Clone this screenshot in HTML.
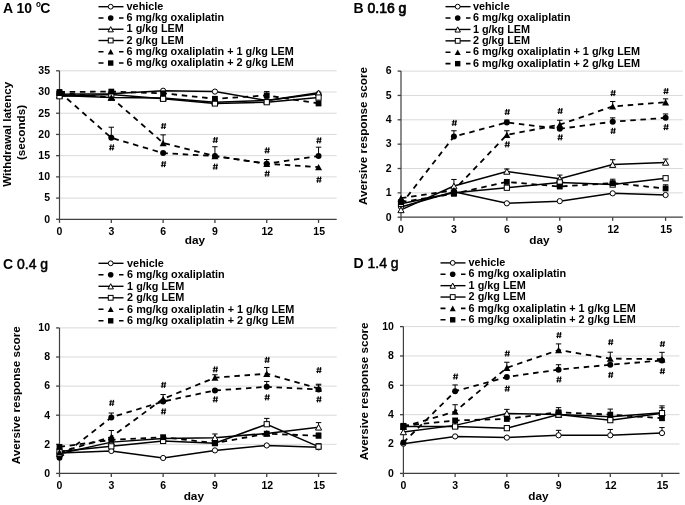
<!DOCTYPE html>
<html><head><meta charset="utf-8"><style>
html,body{margin:0;padding:0;background:#fff;width:685px;height:505px;overflow:hidden}
svg{display:block;font-family:"Liberation Sans", sans-serif;filter:blur(0.35px)}
</style></head><body>
<svg width="685" height="505" viewBox="0 0 685 505">
<rect width="685" height="505" fill="#fff"/>
<path d="M59.5,198.09H336.7" stroke="#d9d9d9" stroke-width="1"/>
<path d="M59.5,176.87H336.7" stroke="#d9d9d9" stroke-width="1"/>
<path d="M59.5,155.66H336.7" stroke="#d9d9d9" stroke-width="1"/>
<path d="M59.5,134.44H336.7" stroke="#d9d9d9" stroke-width="1"/>
<path d="M59.5,113.23H336.7" stroke="#d9d9d9" stroke-width="1"/>
<path d="M59.5,92.01H336.7" stroke="#d9d9d9" stroke-width="1"/>
<path d="M59.5,70.79H336.7" stroke="#d9d9d9" stroke-width="1"/>
<path d="M59.5,70.79V219.3 M59.5,219.3H336.7" stroke="#404040" stroke-width="1.2" fill="none"/>
<path d="M56.1,219.30H59.5" stroke="#404040" stroke-width="1.3"/>
<text x="50.0" y="222.60000000000002" font-size="10.5" font-weight="bold" text-anchor="end" >0</text>
<path d="M56.1,198.09H59.5" stroke="#404040" stroke-width="1.3"/>
<text x="50.0" y="201.38500000000002" font-size="10.5" font-weight="bold" text-anchor="end" >5</text>
<path d="M56.1,176.87H59.5" stroke="#404040" stroke-width="1.3"/>
<text x="50.0" y="180.17000000000002" font-size="10.5" font-weight="bold" text-anchor="end" >10</text>
<path d="M56.1,155.66H59.5" stroke="#404040" stroke-width="1.3"/>
<text x="50.0" y="158.955" font-size="10.5" font-weight="bold" text-anchor="end" >15</text>
<path d="M56.1,134.44H59.5" stroke="#404040" stroke-width="1.3"/>
<text x="50.0" y="137.74" font-size="10.5" font-weight="bold" text-anchor="end" >20</text>
<path d="M56.1,113.23H59.5" stroke="#404040" stroke-width="1.3"/>
<text x="50.0" y="116.525" font-size="10.5" font-weight="bold" text-anchor="end" >25</text>
<path d="M56.1,92.01H59.5" stroke="#404040" stroke-width="1.3"/>
<text x="50.0" y="95.31" font-size="10.5" font-weight="bold" text-anchor="end" >30</text>
<path d="M56.1,70.79H59.5" stroke="#404040" stroke-width="1.3"/>
<text x="50.0" y="74.09499999999998" font-size="10.5" font-weight="bold" text-anchor="end" >35</text>
<path d="M59.50,219.3V222.9" stroke="#404040" stroke-width="1.3"/>
<text x="59.5" y="235.10000000000002" font-size="10.5" font-weight="bold" text-anchor="middle" >0</text>
<path d="M111.31,219.3V222.9" stroke="#404040" stroke-width="1.3"/>
<text x="111.31" y="235.10000000000002" font-size="10.5" font-weight="bold" text-anchor="middle" >3</text>
<path d="M163.12,219.3V222.9" stroke="#404040" stroke-width="1.3"/>
<text x="163.12" y="235.10000000000002" font-size="10.5" font-weight="bold" text-anchor="middle" >6</text>
<path d="M214.93,219.3V222.9" stroke="#404040" stroke-width="1.3"/>
<text x="214.93" y="235.10000000000002" font-size="10.5" font-weight="bold" text-anchor="middle" >9</text>
<path d="M266.74,219.3V222.9" stroke="#404040" stroke-width="1.3"/>
<text x="267.34000000000003" y="235.10000000000002" font-size="10.5" font-weight="bold" text-anchor="middle" >12</text>
<path d="M318.55,219.3V222.9" stroke="#404040" stroke-width="1.3"/>
<text x="319.15000000000003" y="235.10000000000002" font-size="10.5" font-weight="bold" text-anchor="middle" >15</text>
<text x="195" y="244.4" font-size="11.8" font-weight="bold" text-anchor="middle" >day</text>
<path d="M59.50,94.13 L111.31,93.71 L163.12,90.74 L214.93,91.59 L266.74,100.50 L318.55,93.71" stroke="#000" stroke-width="1.5" fill="none"/>
<path d="M59.50,92.01 L111.31,137.83 L163.12,153.11 L214.93,156.08 L266.74,163.72 L318.55,156.08" stroke="#000" stroke-width="1.8" fill="none" stroke-dasharray="5.5 4.7"/>
<path d="M59.50,95.40 L111.31,97.53 L163.12,97.95 L214.93,102.19 L266.74,100.50 L318.55,92.86" stroke="#000" stroke-width="1.5" fill="none"/>
<path d="M59.50,96.25 L111.31,94.56 L163.12,98.80 L214.93,103.47 L266.74,102.19 L318.55,97.53" stroke="#000" stroke-width="1.5" fill="none"/>
<path d="M59.50,92.86 L111.31,97.53 L163.12,142.93 L214.93,156.08 L266.74,163.72 L318.55,167.11" stroke="#000" stroke-width="1.8" fill="none" stroke-dasharray="5.5 4.7"/>
<path d="M59.50,92.01 L111.31,91.59 L163.12,93.28 L214.93,98.80 L266.74,95.40 L318.55,103.47" stroke="#000" stroke-width="1.8" fill="none" stroke-dasharray="5.5 4.7"/>
<path d="M111.31,137.83V127.23 M108.61,127.23H114.01" stroke="#000" stroke-width="1"/>
<path d="M214.93,156.08V146.74 M212.23,146.74H217.63" stroke="#000" stroke-width="1"/>
<path d="M318.55,156.08V147.17 M315.85,147.17H321.25" stroke="#000" stroke-width="1"/>
<path d="M163.12,142.93V134.86 M160.42,134.86H165.82" stroke="#000" stroke-width="1"/>
<path d="M266.74,163.72V159.47 M264.04,159.47H269.44" stroke="#000" stroke-width="1"/>
<path d="M266.74,95.40V91.59 M264.04,91.59H269.44" stroke="#000" stroke-width="1"/>
<circle cx="59.50" cy="94.13" r="2.6" fill="#fff" stroke="#000" stroke-width="1"/>
<circle cx="111.31" cy="93.71" r="2.6" fill="#fff" stroke="#000" stroke-width="1"/>
<circle cx="163.12" cy="90.74" r="2.6" fill="#fff" stroke="#000" stroke-width="1"/>
<circle cx="214.93" cy="91.59" r="2.6" fill="#fff" stroke="#000" stroke-width="1"/>
<circle cx="266.74" cy="100.50" r="2.6" fill="#fff" stroke="#000" stroke-width="1"/>
<circle cx="318.55" cy="93.71" r="2.6" fill="#fff" stroke="#000" stroke-width="1"/>
<circle cx="59.50" cy="92.01" r="3.0" fill="#000"/>
<circle cx="111.31" cy="137.83" r="3.0" fill="#000"/>
<circle cx="163.12" cy="153.11" r="3.0" fill="#000"/>
<circle cx="214.93" cy="156.08" r="3.0" fill="#000"/>
<circle cx="266.74" cy="163.72" r="3.0" fill="#000"/>
<circle cx="318.55" cy="156.08" r="3.0" fill="#000"/>
<path d="M59.50,92.60 L62.60,98.20 L56.40,98.20 Z" fill="#fff" stroke="#000" stroke-width="1" stroke-linejoin="miter"/>
<path d="M111.31,94.73 L114.41,100.33 L108.21,100.33 Z" fill="#fff" stroke="#000" stroke-width="1" stroke-linejoin="miter"/>
<path d="M163.12,95.15 L166.22,100.75 L160.02,100.75 Z" fill="#fff" stroke="#000" stroke-width="1" stroke-linejoin="miter"/>
<path d="M214.93,99.39 L218.03,104.99 L211.83,104.99 Z" fill="#fff" stroke="#000" stroke-width="1" stroke-linejoin="miter"/>
<path d="M266.74,97.70 L269.84,103.30 L263.64,103.30 Z" fill="#fff" stroke="#000" stroke-width="1" stroke-linejoin="miter"/>
<path d="M318.55,90.06 L321.65,95.66 L315.45,95.66 Z" fill="#fff" stroke="#000" stroke-width="1" stroke-linejoin="miter"/>
<rect x="56.90" y="93.65" width="5.2" height="5.2" fill="#fff" stroke="#000" stroke-width="1"/>
<rect x="108.71" y="91.96" width="5.2" height="5.2" fill="#fff" stroke="#000" stroke-width="1"/>
<rect x="160.52" y="96.20" width="5.2" height="5.2" fill="#fff" stroke="#000" stroke-width="1"/>
<rect x="212.33" y="100.87" width="5.2" height="5.2" fill="#fff" stroke="#000" stroke-width="1"/>
<rect x="264.14" y="99.59" width="5.2" height="5.2" fill="#fff" stroke="#000" stroke-width="1"/>
<rect x="315.95" y="94.93" width="5.2" height="5.2" fill="#fff" stroke="#000" stroke-width="1"/>
<path d="M59.50,89.66 L63.00,96.06 L56.00,96.06 Z" fill="#000"/>
<path d="M111.31,94.33 L114.81,100.73 L107.81,100.73 Z" fill="#000"/>
<path d="M163.12,139.73 L166.62,146.13 L159.62,146.13 Z" fill="#000"/>
<path d="M214.93,152.88 L218.43,159.28 L211.43,159.28 Z" fill="#000"/>
<path d="M266.74,160.52 L270.24,166.92 L263.24,166.92 Z" fill="#000"/>
<path d="M318.55,163.91 L322.05,170.31 L315.05,170.31 Z" fill="#000"/>
<rect x="56.60" y="89.11" width="5.8" height="5.8" fill="#000"/>
<rect x="108.41" y="88.69" width="5.8" height="5.8" fill="#000"/>
<rect x="160.22" y="90.38" width="5.8" height="5.8" fill="#000"/>
<rect x="212.03" y="95.90" width="5.8" height="5.8" fill="#000"/>
<rect x="263.84" y="92.50" width="5.8" height="5.8" fill="#000"/>
<rect x="315.65" y="100.57" width="5.8" height="5.8" fill="#000"/>
<path d="M110.11,150.40L111.11,144.40M112.51,150.40L113.51,144.40" stroke="#000" stroke-width="1.1" fill="none"/>
<path d="M109.21,146.30H114.41M109.01,148.70H114.21" stroke="#000" stroke-width="0.9" fill="none"/>
<path d="M161.92,129.00L162.92,123.00M164.32,129.00L165.32,123.00" stroke="#000" stroke-width="1.1" fill="none"/>
<path d="M161.02,124.90H166.22M160.82,127.30H166.02" stroke="#000" stroke-width="0.9" fill="none"/>
<path d="M161.92,167.10L162.92,161.10M164.32,167.10L165.32,161.10" stroke="#000" stroke-width="1.1" fill="none"/>
<path d="M161.02,163.00H166.22M160.82,165.40H166.02" stroke="#000" stroke-width="0.9" fill="none"/>
<path d="M213.73,143.00L214.73,137.00M216.13,143.00L217.13,137.00" stroke="#000" stroke-width="1.1" fill="none"/>
<path d="M212.83,138.90H218.03M212.63,141.30H217.83" stroke="#000" stroke-width="0.9" fill="none"/>
<path d="M213.73,169.70L214.73,163.70M216.13,169.70L217.13,163.70" stroke="#000" stroke-width="1.1" fill="none"/>
<path d="M212.83,165.60H218.03M212.63,168.00H217.83" stroke="#000" stroke-width="0.9" fill="none"/>
<path d="M265.54,153.40L266.54,147.40M267.94,153.40L268.94,147.40" stroke="#000" stroke-width="1.1" fill="none"/>
<path d="M264.64,149.30H269.84M264.44,151.70H269.64" stroke="#000" stroke-width="0.9" fill="none"/>
<path d="M265.54,176.60L266.54,170.60M267.94,176.60L268.94,170.60" stroke="#000" stroke-width="1.1" fill="none"/>
<path d="M264.64,172.50H269.84M264.44,174.90H269.64" stroke="#000" stroke-width="0.9" fill="none"/>
<path d="M317.35,143.30L318.35,137.30M319.75,143.30L320.75,137.30" stroke="#000" stroke-width="1.1" fill="none"/>
<path d="M316.45,139.20H321.65M316.25,141.60H321.45" stroke="#000" stroke-width="0.9" fill="none"/>
<path d="M317.35,182.60L318.35,176.60M319.75,182.60L320.75,176.60" stroke="#000" stroke-width="1.1" fill="none"/>
<path d="M316.45,178.50H321.65M316.25,180.90H321.45" stroke="#000" stroke-width="0.9" fill="none"/>
<path d="M401,192.85H682.8" stroke="#d9d9d9" stroke-width="1"/>
<path d="M401,168.50H682.8" stroke="#d9d9d9" stroke-width="1"/>
<path d="M401,144.15H682.8" stroke="#d9d9d9" stroke-width="1"/>
<path d="M401,119.80H682.8" stroke="#d9d9d9" stroke-width="1"/>
<path d="M401,95.45H682.8" stroke="#d9d9d9" stroke-width="1"/>
<path d="M401,71.10H682.8" stroke="#d9d9d9" stroke-width="1"/>
<path d="M401,71.10V217.2 M401,217.2H682.8" stroke="#404040" stroke-width="1.2" fill="none"/>
<path d="M397.6,217.20H401" stroke="#404040" stroke-width="1.3"/>
<text x="391.5" y="220.5" font-size="10.5" font-weight="bold" text-anchor="end" >0</text>
<path d="M397.6,192.85H401" stroke="#404040" stroke-width="1.3"/>
<text x="391.5" y="196.15" font-size="10.5" font-weight="bold" text-anchor="end" >1</text>
<path d="M397.6,168.50H401" stroke="#404040" stroke-width="1.3"/>
<text x="391.5" y="171.8" font-size="10.5" font-weight="bold" text-anchor="end" >2</text>
<path d="M397.6,144.15H401" stroke="#404040" stroke-width="1.3"/>
<text x="391.5" y="147.45" font-size="10.5" font-weight="bold" text-anchor="end" >3</text>
<path d="M397.6,119.80H401" stroke="#404040" stroke-width="1.3"/>
<text x="391.5" y="123.09999999999998" font-size="10.5" font-weight="bold" text-anchor="end" >4</text>
<path d="M397.6,95.45H401" stroke="#404040" stroke-width="1.3"/>
<text x="391.5" y="98.74999999999999" font-size="10.5" font-weight="bold" text-anchor="end" >5</text>
<path d="M397.6,71.10H401" stroke="#404040" stroke-width="1.3"/>
<text x="391.5" y="74.39999999999996" font-size="10.5" font-weight="bold" text-anchor="end" >6</text>
<path d="M401.00,217.2V220.79999999999998" stroke="#404040" stroke-width="1.3"/>
<text x="401.0" y="233.0" font-size="10.5" font-weight="bold" text-anchor="middle" >0</text>
<path d="M453.92,217.2V220.79999999999998" stroke="#404040" stroke-width="1.3"/>
<text x="453.92" y="233.0" font-size="10.5" font-weight="bold" text-anchor="middle" >3</text>
<path d="M506.84,217.2V220.79999999999998" stroke="#404040" stroke-width="1.3"/>
<text x="506.84000000000003" y="233.0" font-size="10.5" font-weight="bold" text-anchor="middle" >6</text>
<path d="M559.76,217.2V220.79999999999998" stroke="#404040" stroke-width="1.3"/>
<text x="559.76" y="233.0" font-size="10.5" font-weight="bold" text-anchor="middle" >9</text>
<path d="M612.68,217.2V220.79999999999998" stroke="#404040" stroke-width="1.3"/>
<text x="613.2800000000001" y="233.0" font-size="10.5" font-weight="bold" text-anchor="middle" >12</text>
<path d="M665.60,217.2V220.79999999999998" stroke="#404040" stroke-width="1.3"/>
<text x="666.2" y="233.0" font-size="10.5" font-weight="bold" text-anchor="middle" >15</text>
<text x="539.5" y="244.3" font-size="11.8" font-weight="bold" text-anchor="middle" >day</text>
<path d="M401.00,206.97 L453.92,191.88 L506.84,203.32 L559.76,201.13 L612.68,193.34 L665.60,195.04" stroke="#000" stroke-width="1.5" fill="none"/>
<path d="M401.00,204.54 L453.92,136.60 L506.84,122.48 L559.76,128.81 L612.68,121.75 L665.60,117.85" stroke="#000" stroke-width="1.8" fill="none" stroke-dasharray="5.5 4.7"/>
<path d="M401.00,209.89 L453.92,186.03 L506.84,171.42 L559.76,178.73 L612.68,164.60 L665.60,162.41" stroke="#000" stroke-width="1.5" fill="none"/>
<path d="M401.00,203.81 L453.92,192.85 L506.84,187.74 L559.76,182.38 L612.68,184.57 L665.60,178.24" stroke="#000" stroke-width="1.5" fill="none"/>
<path d="M401.00,198.21 L453.92,190.17 L506.84,134.90 L559.76,124.67 L612.68,106.41 L665.60,102.27" stroke="#000" stroke-width="1.8" fill="none" stroke-dasharray="5.5 4.7"/>
<path d="M401.00,202.10 L453.92,193.82 L506.84,181.89 L559.76,186.52 L612.68,183.11 L665.60,188.47" stroke="#000" stroke-width="1.8" fill="none" stroke-dasharray="5.5 4.7"/>
<path d="M453.92,136.60V130.76 M451.22,130.76H456.62" stroke="#000" stroke-width="1"/>
<path d="M506.84,122.48V120.04 M504.14,120.04H509.54" stroke="#000" stroke-width="1"/>
<path d="M612.68,121.75V117.85 M609.98,117.85H615.38" stroke="#000" stroke-width="1"/>
<path d="M665.60,117.85V113.96 M662.90,113.96H668.30" stroke="#000" stroke-width="1"/>
<path d="M453.92,186.03V179.46 M451.22,179.46H456.62" stroke="#000" stroke-width="1"/>
<path d="M506.84,171.42V168.99 M504.14,168.99H509.54" stroke="#000" stroke-width="1"/>
<path d="M559.76,178.73V175.07 M557.06,175.07H562.46" stroke="#000" stroke-width="1"/>
<path d="M612.68,164.60V159.73 M609.98,159.73H615.38" stroke="#000" stroke-width="1"/>
<path d="M665.60,162.41V159.00 M662.90,159.00H668.30" stroke="#000" stroke-width="1"/>
<path d="M506.84,134.90V130.76 M504.14,130.76H509.54" stroke="#000" stroke-width="1"/>
<path d="M559.76,124.67V120.29 M557.06,120.29H562.46" stroke="#000" stroke-width="1"/>
<path d="M612.68,106.41V101.54 M609.98,101.54H615.38" stroke="#000" stroke-width="1"/>
<path d="M665.60,102.27V98.86 M662.90,98.86H668.30" stroke="#000" stroke-width="1"/>
<path d="M612.68,183.11V179.21 M609.98,179.21H615.38" stroke="#000" stroke-width="1"/>
<path d="M665.60,188.47V184.81 M662.90,184.81H668.30" stroke="#000" stroke-width="1"/>
<circle cx="401.00" cy="206.97" r="2.6" fill="#fff" stroke="#000" stroke-width="1"/>
<circle cx="453.92" cy="191.88" r="2.6" fill="#fff" stroke="#000" stroke-width="1"/>
<circle cx="506.84" cy="203.32" r="2.6" fill="#fff" stroke="#000" stroke-width="1"/>
<circle cx="559.76" cy="201.13" r="2.6" fill="#fff" stroke="#000" stroke-width="1"/>
<circle cx="612.68" cy="193.34" r="2.6" fill="#fff" stroke="#000" stroke-width="1"/>
<circle cx="665.60" cy="195.04" r="2.6" fill="#fff" stroke="#000" stroke-width="1"/>
<circle cx="401.00" cy="204.54" r="3.0" fill="#000"/>
<circle cx="453.92" cy="136.60" r="3.0" fill="#000"/>
<circle cx="506.84" cy="122.48" r="3.0" fill="#000"/>
<circle cx="559.76" cy="128.81" r="3.0" fill="#000"/>
<circle cx="612.68" cy="121.75" r="3.0" fill="#000"/>
<circle cx="665.60" cy="117.85" r="3.0" fill="#000"/>
<path d="M401.00,207.09 L404.10,212.69 L397.90,212.69 Z" fill="#fff" stroke="#000" stroke-width="1" stroke-linejoin="miter"/>
<path d="M453.92,183.23 L457.02,188.83 L450.82,188.83 Z" fill="#fff" stroke="#000" stroke-width="1" stroke-linejoin="miter"/>
<path d="M506.84,168.62 L509.94,174.22 L503.74,174.22 Z" fill="#fff" stroke="#000" stroke-width="1" stroke-linejoin="miter"/>
<path d="M559.76,175.93 L562.86,181.53 L556.66,181.53 Z" fill="#fff" stroke="#000" stroke-width="1" stroke-linejoin="miter"/>
<path d="M612.68,161.80 L615.78,167.40 L609.58,167.40 Z" fill="#fff" stroke="#000" stroke-width="1" stroke-linejoin="miter"/>
<path d="M665.60,159.61 L668.70,165.21 L662.50,165.21 Z" fill="#fff" stroke="#000" stroke-width="1" stroke-linejoin="miter"/>
<rect x="398.40" y="201.21" width="5.2" height="5.2" fill="#fff" stroke="#000" stroke-width="1"/>
<rect x="451.32" y="190.25" width="5.2" height="5.2" fill="#fff" stroke="#000" stroke-width="1"/>
<rect x="504.24" y="185.14" width="5.2" height="5.2" fill="#fff" stroke="#000" stroke-width="1"/>
<rect x="557.16" y="179.78" width="5.2" height="5.2" fill="#fff" stroke="#000" stroke-width="1"/>
<rect x="610.08" y="181.97" width="5.2" height="5.2" fill="#fff" stroke="#000" stroke-width="1"/>
<rect x="663.00" y="175.64" width="5.2" height="5.2" fill="#fff" stroke="#000" stroke-width="1"/>
<path d="M401.00,195.01 L404.50,201.41 L397.50,201.41 Z" fill="#000"/>
<path d="M453.92,186.97 L457.42,193.37 L450.42,193.37 Z" fill="#000"/>
<path d="M506.84,131.70 L510.34,138.10 L503.34,138.10 Z" fill="#000"/>
<path d="M559.76,121.47 L563.26,127.87 L556.26,127.87 Z" fill="#000"/>
<path d="M612.68,103.21 L616.18,109.61 L609.18,109.61 Z" fill="#000"/>
<path d="M665.60,99.07 L669.10,105.47 L662.10,105.47 Z" fill="#000"/>
<rect x="398.10" y="199.20" width="5.8" height="5.8" fill="#000"/>
<rect x="451.02" y="190.92" width="5.8" height="5.8" fill="#000"/>
<rect x="503.94" y="178.99" width="5.8" height="5.8" fill="#000"/>
<rect x="556.86" y="183.62" width="5.8" height="5.8" fill="#000"/>
<rect x="609.78" y="180.21" width="5.8" height="5.8" fill="#000"/>
<rect x="662.70" y="185.57" width="5.8" height="5.8" fill="#000"/>
<path d="M452.72,125.90L453.72,119.90M455.12,125.90L456.12,119.90" stroke="#000" stroke-width="1.1" fill="none"/>
<path d="M451.82,121.80H457.02M451.62,124.20H456.82" stroke="#000" stroke-width="0.9" fill="none"/>
<path d="M505.64,115.00L506.64,109.00M508.04,115.00L509.04,109.00" stroke="#000" stroke-width="1.1" fill="none"/>
<path d="M504.74,110.90H509.94M504.54,113.30H509.74" stroke="#000" stroke-width="0.9" fill="none"/>
<path d="M505.64,147.30L506.64,141.30M508.04,147.30L509.04,141.30" stroke="#000" stroke-width="1.1" fill="none"/>
<path d="M504.74,143.20H509.94M504.54,145.60H509.74" stroke="#000" stroke-width="0.9" fill="none"/>
<path d="M558.56,114.00L559.56,108.00M560.96,114.00L561.96,108.00" stroke="#000" stroke-width="1.1" fill="none"/>
<path d="M557.66,109.90H562.86M557.46,112.30H562.66" stroke="#000" stroke-width="0.9" fill="none"/>
<path d="M558.56,140.30L559.56,134.30M560.96,140.30L561.96,134.30" stroke="#000" stroke-width="1.1" fill="none"/>
<path d="M557.66,136.20H562.86M557.46,138.60H562.66" stroke="#000" stroke-width="0.9" fill="none"/>
<path d="M611.48,96.20L612.48,90.20M613.88,96.20L614.88,90.20" stroke="#000" stroke-width="1.1" fill="none"/>
<path d="M610.58,92.10H615.78M610.38,94.50H615.58" stroke="#000" stroke-width="0.9" fill="none"/>
<path d="M611.48,133.90L612.48,127.90M613.88,133.90L614.88,127.90" stroke="#000" stroke-width="1.1" fill="none"/>
<path d="M610.58,129.80H615.78M610.38,132.20H615.58" stroke="#000" stroke-width="0.9" fill="none"/>
<path d="M664.40,94.20L665.40,88.20M666.80,94.20L667.80,88.20" stroke="#000" stroke-width="1.1" fill="none"/>
<path d="M663.50,90.10H668.70M663.30,92.50H668.50" stroke="#000" stroke-width="0.9" fill="none"/>
<path d="M664.40,130.20L665.40,124.20M666.80,130.20L667.80,124.20" stroke="#000" stroke-width="1.1" fill="none"/>
<path d="M663.50,126.10H668.70M663.30,128.50H668.50" stroke="#000" stroke-width="0.9" fill="none"/>
<path d="M59.5,444.30H336.7" stroke="#d9d9d9" stroke-width="1"/>
<path d="M59.5,415.20H336.7" stroke="#d9d9d9" stroke-width="1"/>
<path d="M59.5,386.10H336.7" stroke="#d9d9d9" stroke-width="1"/>
<path d="M59.5,357.00H336.7" stroke="#d9d9d9" stroke-width="1"/>
<path d="M59.5,327.90H336.7" stroke="#d9d9d9" stroke-width="1"/>
<path d="M59.5,327.90V473.4 M59.5,473.4H336.7" stroke="#404040" stroke-width="1.2" fill="none"/>
<path d="M56.1,473.40H59.5" stroke="#404040" stroke-width="1.3"/>
<text x="50.0" y="476.7" font-size="10.5" font-weight="bold" text-anchor="end" >0</text>
<path d="M56.1,444.30H59.5" stroke="#404040" stroke-width="1.3"/>
<text x="50.0" y="447.59999999999997" font-size="10.5" font-weight="bold" text-anchor="end" >2</text>
<path d="M56.1,415.20H59.5" stroke="#404040" stroke-width="1.3"/>
<text x="50.0" y="418.5" font-size="10.5" font-weight="bold" text-anchor="end" >4</text>
<path d="M56.1,386.10H59.5" stroke="#404040" stroke-width="1.3"/>
<text x="50.0" y="389.4" font-size="10.5" font-weight="bold" text-anchor="end" >6</text>
<path d="M56.1,357.00H59.5" stroke="#404040" stroke-width="1.3"/>
<text x="50.0" y="360.3" font-size="10.5" font-weight="bold" text-anchor="end" >8</text>
<path d="M56.1,327.90H59.5" stroke="#404040" stroke-width="1.3"/>
<text x="50.0" y="331.2" font-size="10.5" font-weight="bold" text-anchor="end" >10</text>
<path d="M59.50,473.4V477.0" stroke="#404040" stroke-width="1.3"/>
<text x="59.5" y="489.2" font-size="10.5" font-weight="bold" text-anchor="middle" >0</text>
<path d="M111.31,473.4V477.0" stroke="#404040" stroke-width="1.3"/>
<text x="111.31" y="489.2" font-size="10.5" font-weight="bold" text-anchor="middle" >3</text>
<path d="M163.12,473.4V477.0" stroke="#404040" stroke-width="1.3"/>
<text x="163.12" y="489.2" font-size="10.5" font-weight="bold" text-anchor="middle" >6</text>
<path d="M214.93,473.4V477.0" stroke="#404040" stroke-width="1.3"/>
<text x="214.93" y="489.2" font-size="10.5" font-weight="bold" text-anchor="middle" >9</text>
<path d="M266.74,473.4V477.0" stroke="#404040" stroke-width="1.3"/>
<text x="267.34000000000003" y="489.2" font-size="10.5" font-weight="bold" text-anchor="middle" >12</text>
<path d="M318.55,473.4V477.0" stroke="#404040" stroke-width="1.3"/>
<text x="319.15000000000003" y="489.2" font-size="10.5" font-weight="bold" text-anchor="middle" >15</text>
<text x="193.8" y="500.4" font-size="11.8" font-weight="bold" text-anchor="middle" >day</text>
<path d="M59.50,453.03 L111.31,450.99 L163.12,457.98 L214.93,450.41 L266.74,445.46 L318.55,447.36" stroke="#000" stroke-width="1.5" fill="none"/>
<path d="M59.50,457.83 L111.31,417.38 L163.12,401.52 L214.93,390.46 L266.74,386.83 L318.55,389.45" stroke="#000" stroke-width="1.8" fill="none" stroke-dasharray="5.5 4.7"/>
<path d="M59.50,453.76 L111.31,442.12 L163.12,438.48 L214.93,437.75 L266.74,433.39 L318.55,427.28" stroke="#000" stroke-width="1.5" fill="none"/>
<path d="M59.50,451.57 L111.31,446.34 L163.12,440.95 L214.93,443.14 L266.74,424.22 L318.55,446.63" stroke="#000" stroke-width="1.5" fill="none"/>
<path d="M59.50,452.30 L111.31,437.02 L163.12,398.90 L214.93,377.66 L266.74,373.73 L318.55,388.57" stroke="#000" stroke-width="1.8" fill="none" stroke-dasharray="5.5 4.7"/>
<path d="M59.50,446.92 L111.31,439.94 L163.12,437.17 L214.93,443.14 L266.74,433.68 L318.55,435.86" stroke="#000" stroke-width="1.8" fill="none" stroke-dasharray="5.5 4.7"/>
<path d="M318.55,447.36V444.45 M315.85,444.45H321.25" stroke="#000" stroke-width="1"/>
<path d="M111.31,417.38V413.02 M108.61,413.02H114.01" stroke="#000" stroke-width="1"/>
<path d="M266.74,386.83V381.44 M264.04,381.44H269.44" stroke="#000" stroke-width="1"/>
<path d="M318.55,389.45V385.08 M315.85,385.08H321.25" stroke="#000" stroke-width="1"/>
<path d="M214.93,437.75V433.97 M212.23,433.97H217.63" stroke="#000" stroke-width="1"/>
<path d="M318.55,427.28V422.62 M315.85,422.62H321.25" stroke="#000" stroke-width="1"/>
<path d="M266.74,424.22V418.40 M264.04,418.40H269.44" stroke="#000" stroke-width="1"/>
<path d="M318.55,446.63V443.72 M315.85,443.72H321.25" stroke="#000" stroke-width="1"/>
<path d="M111.31,437.02V430.48 M108.61,430.48H114.01" stroke="#000" stroke-width="1"/>
<path d="M163.12,398.90V394.54 M160.42,394.54H165.82" stroke="#000" stroke-width="1"/>
<path d="M214.93,377.66V374.75 M212.23,374.75H217.63" stroke="#000" stroke-width="1"/>
<path d="M266.74,373.73V367.48 M264.04,367.48H269.44" stroke="#000" stroke-width="1"/>
<path d="M318.55,388.57V384.21 M315.85,384.21H321.25" stroke="#000" stroke-width="1"/>
<path d="M318.55,435.86V432.95 M315.85,432.95H321.25" stroke="#000" stroke-width="1"/>
<circle cx="59.50" cy="453.03" r="2.6" fill="#fff" stroke="#000" stroke-width="1"/>
<circle cx="111.31" cy="450.99" r="2.6" fill="#fff" stroke="#000" stroke-width="1"/>
<circle cx="163.12" cy="457.98" r="2.6" fill="#fff" stroke="#000" stroke-width="1"/>
<circle cx="214.93" cy="450.41" r="2.6" fill="#fff" stroke="#000" stroke-width="1"/>
<circle cx="266.74" cy="445.46" r="2.6" fill="#fff" stroke="#000" stroke-width="1"/>
<circle cx="318.55" cy="447.36" r="2.6" fill="#fff" stroke="#000" stroke-width="1"/>
<circle cx="59.50" cy="457.83" r="3.0" fill="#000"/>
<circle cx="111.31" cy="417.38" r="3.0" fill="#000"/>
<circle cx="163.12" cy="401.52" r="3.0" fill="#000"/>
<circle cx="214.93" cy="390.46" r="3.0" fill="#000"/>
<circle cx="266.74" cy="386.83" r="3.0" fill="#000"/>
<circle cx="318.55" cy="389.45" r="3.0" fill="#000"/>
<path d="M59.50,450.96 L62.60,456.56 L56.40,456.56 Z" fill="#fff" stroke="#000" stroke-width="1" stroke-linejoin="miter"/>
<path d="M111.31,439.32 L114.41,444.92 L108.21,444.92 Z" fill="#fff" stroke="#000" stroke-width="1" stroke-linejoin="miter"/>
<path d="M163.12,435.68 L166.22,441.28 L160.02,441.28 Z" fill="#fff" stroke="#000" stroke-width="1" stroke-linejoin="miter"/>
<path d="M214.93,434.95 L218.03,440.55 L211.83,440.55 Z" fill="#fff" stroke="#000" stroke-width="1" stroke-linejoin="miter"/>
<path d="M266.74,430.59 L269.84,436.19 L263.64,436.19 Z" fill="#fff" stroke="#000" stroke-width="1" stroke-linejoin="miter"/>
<path d="M318.55,424.48 L321.65,430.08 L315.45,430.08 Z" fill="#fff" stroke="#000" stroke-width="1" stroke-linejoin="miter"/>
<rect x="56.90" y="448.97" width="5.2" height="5.2" fill="#fff" stroke="#000" stroke-width="1"/>
<rect x="108.71" y="443.74" width="5.2" height="5.2" fill="#fff" stroke="#000" stroke-width="1"/>
<rect x="160.52" y="438.35" width="5.2" height="5.2" fill="#fff" stroke="#000" stroke-width="1"/>
<rect x="212.33" y="440.54" width="5.2" height="5.2" fill="#fff" stroke="#000" stroke-width="1"/>
<rect x="264.14" y="421.62" width="5.2" height="5.2" fill="#fff" stroke="#000" stroke-width="1"/>
<rect x="315.95" y="444.03" width="5.2" height="5.2" fill="#fff" stroke="#000" stroke-width="1"/>
<path d="M59.50,449.10 L63.00,455.50 L56.00,455.50 Z" fill="#000"/>
<path d="M111.31,433.82 L114.81,440.22 L107.81,440.22 Z" fill="#000"/>
<path d="M163.12,395.70 L166.62,402.10 L159.62,402.10 Z" fill="#000"/>
<path d="M214.93,374.46 L218.43,380.86 L211.43,380.86 Z" fill="#000"/>
<path d="M266.74,370.53 L270.24,376.93 L263.24,376.93 Z" fill="#000"/>
<path d="M318.55,385.37 L322.05,391.77 L315.05,391.77 Z" fill="#000"/>
<rect x="56.60" y="444.02" width="5.8" height="5.8" fill="#000"/>
<rect x="108.41" y="437.03" width="5.8" height="5.8" fill="#000"/>
<rect x="160.22" y="434.27" width="5.8" height="5.8" fill="#000"/>
<rect x="212.03" y="440.24" width="5.8" height="5.8" fill="#000"/>
<rect x="263.84" y="430.78" width="5.8" height="5.8" fill="#000"/>
<rect x="315.65" y="432.96" width="5.8" height="5.8" fill="#000"/>
<path d="M110.11,405.90L111.11,399.90M112.51,405.90L113.51,399.90" stroke="#000" stroke-width="1.1" fill="none"/>
<path d="M109.21,401.80H114.41M109.01,404.20H114.21" stroke="#000" stroke-width="0.9" fill="none"/>
<path d="M161.92,387.90L162.92,381.90M164.32,387.90L165.32,381.90" stroke="#000" stroke-width="1.1" fill="none"/>
<path d="M161.02,383.80H166.22M160.82,386.20H166.02" stroke="#000" stroke-width="0.9" fill="none"/>
<path d="M161.92,414.40L162.92,408.40M164.32,414.40L165.32,408.40" stroke="#000" stroke-width="1.1" fill="none"/>
<path d="M161.02,410.30H166.22M160.82,412.70H166.02" stroke="#000" stroke-width="0.9" fill="none"/>
<path d="M213.73,372.40L214.73,366.40M216.13,372.40L217.13,366.40" stroke="#000" stroke-width="1.1" fill="none"/>
<path d="M212.83,368.30H218.03M212.63,370.70H217.83" stroke="#000" stroke-width="0.9" fill="none"/>
<path d="M213.73,402.30L214.73,396.30M216.13,402.30L217.13,396.30" stroke="#000" stroke-width="1.1" fill="none"/>
<path d="M212.83,398.20H218.03M212.63,400.60H217.83" stroke="#000" stroke-width="0.9" fill="none"/>
<path d="M265.54,362.90L266.54,356.90M267.94,362.90L268.94,356.90" stroke="#000" stroke-width="1.1" fill="none"/>
<path d="M264.64,358.80H269.84M264.44,361.20H269.64" stroke="#000" stroke-width="0.9" fill="none"/>
<path d="M265.54,400.30L266.54,394.30M267.94,400.30L268.94,394.30" stroke="#000" stroke-width="1.1" fill="none"/>
<path d="M264.64,396.20H269.84M264.44,398.60H269.64" stroke="#000" stroke-width="0.9" fill="none"/>
<path d="M317.35,373.20L318.35,367.20M319.75,373.20L320.75,367.20" stroke="#000" stroke-width="1.1" fill="none"/>
<path d="M316.45,369.10H321.65M316.25,371.50H321.45" stroke="#000" stroke-width="0.9" fill="none"/>
<path d="M317.35,402.30L318.35,396.30M319.75,402.30L320.75,396.30" stroke="#000" stroke-width="1.1" fill="none"/>
<path d="M316.45,398.20H321.65M316.25,400.60H321.45" stroke="#000" stroke-width="0.9" fill="none"/>
<path d="M403.4,444.04H679.5" stroke="#d9d9d9" stroke-width="1"/>
<path d="M403.4,414.68H679.5" stroke="#d9d9d9" stroke-width="1"/>
<path d="M403.4,385.32H679.5" stroke="#d9d9d9" stroke-width="1"/>
<path d="M403.4,355.96H679.5" stroke="#d9d9d9" stroke-width="1"/>
<path d="M403.4,326.60H679.5" stroke="#d9d9d9" stroke-width="1"/>
<path d="M403.4,326.60V473.4 M403.4,473.4H679.5" stroke="#404040" stroke-width="1.2" fill="none"/>
<path d="M400.0,473.40H403.4" stroke="#404040" stroke-width="1.3"/>
<text x="393.9" y="476.7" font-size="10.5" font-weight="bold" text-anchor="end" >0</text>
<path d="M400.0,444.04H403.4" stroke="#404040" stroke-width="1.3"/>
<text x="393.9" y="447.34" font-size="10.5" font-weight="bold" text-anchor="end" >2</text>
<path d="M400.0,414.68H403.4" stroke="#404040" stroke-width="1.3"/>
<text x="393.9" y="417.97999999999996" font-size="10.5" font-weight="bold" text-anchor="end" >4</text>
<path d="M400.0,385.32H403.4" stroke="#404040" stroke-width="1.3"/>
<text x="393.9" y="388.62" font-size="10.5" font-weight="bold" text-anchor="end" >6</text>
<path d="M400.0,355.96H403.4" stroke="#404040" stroke-width="1.3"/>
<text x="393.9" y="359.26" font-size="10.5" font-weight="bold" text-anchor="end" >8</text>
<path d="M400.0,326.60H403.4" stroke="#404040" stroke-width="1.3"/>
<text x="393.9" y="329.9" font-size="10.5" font-weight="bold" text-anchor="end" >10</text>
<path d="M403.40,473.4V477.0" stroke="#404040" stroke-width="1.3"/>
<text x="403.4" y="489.2" font-size="10.5" font-weight="bold" text-anchor="middle" >0</text>
<path d="M455.12,473.4V477.0" stroke="#404040" stroke-width="1.3"/>
<text x="455.12" y="489.2" font-size="10.5" font-weight="bold" text-anchor="middle" >3</text>
<path d="M506.84,473.4V477.0" stroke="#404040" stroke-width="1.3"/>
<text x="506.84" y="489.2" font-size="10.5" font-weight="bold" text-anchor="middle" >6</text>
<path d="M558.56,473.4V477.0" stroke="#404040" stroke-width="1.3"/>
<text x="558.56" y="489.2" font-size="10.5" font-weight="bold" text-anchor="middle" >9</text>
<path d="M610.28,473.4V477.0" stroke="#404040" stroke-width="1.3"/>
<text x="610.88" y="489.2" font-size="10.5" font-weight="bold" text-anchor="middle" >12</text>
<path d="M662.00,473.4V477.0" stroke="#404040" stroke-width="1.3"/>
<text x="662.6" y="489.2" font-size="10.5" font-weight="bold" text-anchor="middle" >15</text>
<text x="538.5" y="500.4" font-size="11.8" font-weight="bold" text-anchor="middle" >day</text>
<path d="M403.40,443.72 L455.12,436.44 L506.84,437.61 L558.56,435.28 L610.28,435.28 L662.00,433.10" stroke="#000" stroke-width="1.5" fill="none"/>
<path d="M403.40,442.55 L455.12,391.34 L506.84,376.93 L558.56,369.66 L610.28,364.71 L662.00,360.49" stroke="#000" stroke-width="1.8" fill="none" stroke-dasharray="5.5 4.7"/>
<path d="M403.40,431.93 L455.12,425.38 L506.84,413.45 L558.56,414.62 L610.28,416.65 L662.00,412.87" stroke="#000" stroke-width="1.5" fill="none"/>
<path d="M403.40,426.55 L455.12,426.55 L506.84,428.15 L558.56,414.62 L610.28,420.15 L662.00,413.16" stroke="#000" stroke-width="1.5" fill="none"/>
<path d="M403.40,426.84 L455.12,411.56 L506.84,367.77 L558.56,350.02 L610.28,358.60 L662.00,359.18" stroke="#000" stroke-width="1.8" fill="none" stroke-dasharray="5.5 4.7"/>
<path d="M403.40,425.82 L455.12,420.44 L506.84,418.98 L558.56,412.29 L610.28,414.62 L662.00,418.26" stroke="#000" stroke-width="1.8" fill="none" stroke-dasharray="5.5 4.7"/>
<path d="M558.56,435.28V430.33 M555.86,430.33H561.26" stroke="#000" stroke-width="1"/>
<path d="M610.28,435.28V429.46 M607.58,429.46H612.98" stroke="#000" stroke-width="1"/>
<path d="M662.00,433.10V427.57 M659.30,427.57H664.70" stroke="#000" stroke-width="1"/>
<path d="M455.12,391.34V384.94 M452.42,384.94H457.82" stroke="#000" stroke-width="1"/>
<path d="M558.56,369.66V364.71 M555.86,364.71H561.26" stroke="#000" stroke-width="1"/>
<path d="M506.84,413.45V409.38 M504.14,409.38H509.54" stroke="#000" stroke-width="1"/>
<path d="M558.56,414.62V410.54 M555.86,410.54H561.26" stroke="#000" stroke-width="1"/>
<path d="M662.00,412.87V407.78 M659.30,407.78H664.70" stroke="#000" stroke-width="1"/>
<path d="M662.00,413.16V405.89 M659.30,405.89H664.70" stroke="#000" stroke-width="1"/>
<path d="M455.12,411.56V404.72 M452.42,404.72H457.82" stroke="#000" stroke-width="1"/>
<path d="M506.84,367.77V362.24 M504.14,362.24H509.54" stroke="#000" stroke-width="1"/>
<path d="M558.56,350.02V343.90 M555.86,343.90H561.26" stroke="#000" stroke-width="1"/>
<path d="M610.28,358.60V352.20 M607.58,352.20H612.98" stroke="#000" stroke-width="1"/>
<path d="M662.00,359.18V352.34 M659.30,352.34H664.70" stroke="#000" stroke-width="1"/>
<path d="M558.56,412.29V407.63 M555.86,407.63H561.26" stroke="#000" stroke-width="1"/>
<path d="M610.28,414.62V409.09 M607.58,409.09H612.98" stroke="#000" stroke-width="1"/>
<circle cx="403.40" cy="443.72" r="2.6" fill="#fff" stroke="#000" stroke-width="1"/>
<circle cx="455.12" cy="436.44" r="2.6" fill="#fff" stroke="#000" stroke-width="1"/>
<circle cx="506.84" cy="437.61" r="2.6" fill="#fff" stroke="#000" stroke-width="1"/>
<circle cx="558.56" cy="435.28" r="2.6" fill="#fff" stroke="#000" stroke-width="1"/>
<circle cx="610.28" cy="435.28" r="2.6" fill="#fff" stroke="#000" stroke-width="1"/>
<circle cx="662.00" cy="433.10" r="2.6" fill="#fff" stroke="#000" stroke-width="1"/>
<circle cx="403.40" cy="442.55" r="3.0" fill="#000"/>
<circle cx="455.12" cy="391.34" r="3.0" fill="#000"/>
<circle cx="506.84" cy="376.93" r="3.0" fill="#000"/>
<circle cx="558.56" cy="369.66" r="3.0" fill="#000"/>
<circle cx="610.28" cy="364.71" r="3.0" fill="#000"/>
<circle cx="662.00" cy="360.49" r="3.0" fill="#000"/>
<path d="M403.40,429.13 L406.50,434.73 L400.30,434.73 Z" fill="#fff" stroke="#000" stroke-width="1" stroke-linejoin="miter"/>
<path d="M455.12,422.58 L458.22,428.19 L452.02,428.19 Z" fill="#fff" stroke="#000" stroke-width="1" stroke-linejoin="miter"/>
<path d="M506.84,410.65 L509.94,416.25 L503.74,416.25 Z" fill="#fff" stroke="#000" stroke-width="1" stroke-linejoin="miter"/>
<path d="M558.56,411.82 L561.66,417.42 L555.46,417.42 Z" fill="#fff" stroke="#000" stroke-width="1" stroke-linejoin="miter"/>
<path d="M610.28,413.85 L613.38,419.45 L607.18,419.45 Z" fill="#fff" stroke="#000" stroke-width="1" stroke-linejoin="miter"/>
<path d="M662.00,410.07 L665.10,415.67 L658.90,415.67 Z" fill="#fff" stroke="#000" stroke-width="1" stroke-linejoin="miter"/>
<rect x="400.80" y="423.95" width="5.2" height="5.2" fill="#fff" stroke="#000" stroke-width="1"/>
<rect x="452.52" y="423.95" width="5.2" height="5.2" fill="#fff" stroke="#000" stroke-width="1"/>
<rect x="504.24" y="425.55" width="5.2" height="5.2" fill="#fff" stroke="#000" stroke-width="1"/>
<rect x="555.96" y="412.02" width="5.2" height="5.2" fill="#fff" stroke="#000" stroke-width="1"/>
<rect x="607.68" y="417.55" width="5.2" height="5.2" fill="#fff" stroke="#000" stroke-width="1"/>
<rect x="659.40" y="410.56" width="5.2" height="5.2" fill="#fff" stroke="#000" stroke-width="1"/>
<path d="M403.40,423.64 L406.90,430.04 L399.90,430.04 Z" fill="#000"/>
<path d="M455.12,408.36 L458.62,414.76 L451.62,414.76 Z" fill="#000"/>
<path d="M506.84,364.57 L510.34,370.97 L503.34,370.97 Z" fill="#000"/>
<path d="M558.56,346.82 L562.06,353.22 L555.06,353.22 Z" fill="#000"/>
<path d="M610.28,355.40 L613.78,361.80 L606.78,361.80 Z" fill="#000"/>
<path d="M662.00,355.98 L665.50,362.38 L658.50,362.38 Z" fill="#000"/>
<rect x="400.50" y="422.92" width="5.8" height="5.8" fill="#000"/>
<rect x="452.22" y="417.54" width="5.8" height="5.8" fill="#000"/>
<rect x="503.94" y="416.08" width="5.8" height="5.8" fill="#000"/>
<rect x="555.66" y="409.39" width="5.8" height="5.8" fill="#000"/>
<rect x="607.38" y="411.72" width="5.8" height="5.8" fill="#000"/>
<rect x="659.10" y="415.36" width="5.8" height="5.8" fill="#000"/>
<path d="M453.92,379.50L454.92,373.50M456.32,379.50L457.32,373.50" stroke="#000" stroke-width="1.1" fill="none"/>
<path d="M453.02,375.40H458.22M452.82,377.80H458.02" stroke="#000" stroke-width="0.9" fill="none"/>
<path d="M505.64,356.50L506.64,350.50M508.04,356.50L509.04,350.50" stroke="#000" stroke-width="1.1" fill="none"/>
<path d="M504.74,352.40H509.94M504.54,354.80H509.74" stroke="#000" stroke-width="0.9" fill="none"/>
<path d="M505.64,391.60L506.64,385.60M508.04,391.60L509.04,385.60" stroke="#000" stroke-width="1.1" fill="none"/>
<path d="M504.74,387.50H509.94M504.54,389.90H509.74" stroke="#000" stroke-width="0.9" fill="none"/>
<path d="M557.36,338.10L558.36,332.10M559.76,338.10L560.76,332.10" stroke="#000" stroke-width="1.1" fill="none"/>
<path d="M556.46,334.00H561.66M556.26,336.40H561.46" stroke="#000" stroke-width="0.9" fill="none"/>
<path d="M557.36,382.50L558.36,376.50M559.76,382.50L560.76,376.50" stroke="#000" stroke-width="1.1" fill="none"/>
<path d="M556.46,378.40H561.66M556.26,380.80H561.46" stroke="#000" stroke-width="0.9" fill="none"/>
<path d="M609.08,345.10L610.08,339.10M611.48,345.10L612.48,339.10" stroke="#000" stroke-width="1.1" fill="none"/>
<path d="M608.18,341.00H613.38M607.98,343.40H613.18" stroke="#000" stroke-width="0.9" fill="none"/>
<path d="M609.08,377.80L610.08,371.80M611.48,377.80L612.48,371.80" stroke="#000" stroke-width="1.1" fill="none"/>
<path d="M608.18,373.70H613.38M607.98,376.10H613.18" stroke="#000" stroke-width="0.9" fill="none"/>
<path d="M660.80,347.00L661.80,341.00M663.20,347.00L664.20,341.00" stroke="#000" stroke-width="1.1" fill="none"/>
<path d="M659.90,342.90H665.10M659.70,345.30H664.90" stroke="#000" stroke-width="0.9" fill="none"/>
<path d="M660.80,374.20L661.80,368.20M663.20,374.20L664.20,368.20" stroke="#000" stroke-width="1.1" fill="none"/>
<path d="M659.90,370.10H665.10M659.70,372.50H664.90" stroke="#000" stroke-width="0.9" fill="none"/>
<text transform="translate(3,12.7) scale(1,1.06)" font-size="14" font-weight="bold">A 10 <tspan font-size="8" dy="-5.5">o</tspan><tspan dy="5.5" dx="-0.6">C</tspan></text>
<text transform="translate(353.5,12.5) scale(1,1.06)" font-size="14"><tspan font-weight="bold">B</tspan><tspan stroke="#000" stroke-width="0.7"> 0.16 g</tspan></text>
<text transform="translate(3,268.5) scale(1,1.06)" font-size="14"><tspan font-weight="bold">C</tspan><tspan stroke="#000" stroke-width="0.5"> 0.4 g</tspan></text>
<text transform="translate(353.5,268.3) scale(1,1.06)" font-size="14"><tspan font-weight="bold">D</tspan><tspan stroke="#000" stroke-width="0.5"> 1.4 g</tspan></text>
<path d="M98.5,6.70H123.5" stroke="#000" stroke-width="1.4"/>
<circle cx="110.70" cy="6.70" r="2.4" fill="#fff" stroke="#000" stroke-width="1"/>
<text x="126.6" y="9.9" font-size="10.85" font-weight="bold" text-anchor="start" >vehicle</text>
<path d="M98.5,17.97H103.5 M119.0,17.97H123.5" stroke="#000" stroke-width="1.6"/>
<circle cx="110.70" cy="17.97" r="2.8" fill="#000"/>
<text x="126.6" y="21.169999999999998" font-size="10.85" font-weight="bold" text-anchor="start" >6 mg/kg oxaliplatin</text>
<path d="M98.5,29.24H123.5" stroke="#000" stroke-width="1.4"/>
<path d="M110.70,26.64 L113.40,31.84 L108.00,31.84 Z" fill="#fff" stroke="#000" stroke-width="1" stroke-linejoin="miter"/>
<text x="126.6" y="32.44" font-size="10.85" font-weight="bold" text-anchor="start" >1 g/kg LEM</text>
<path d="M98.5,40.51H123.5" stroke="#000" stroke-width="1.4"/>
<rect x="108.30" y="38.11" width="4.8" height="4.8" fill="#fff" stroke="#000" stroke-width="1"/>
<text x="126.6" y="43.71000000000001" font-size="10.85" font-weight="bold" text-anchor="start" >2 g/kg LEM</text>
<path d="M98.5,51.78H103.5 M119.0,51.78H123.5" stroke="#000" stroke-width="1.6"/>
<path d="M110.70,48.98 L113.70,54.58 L107.70,54.58 Z" fill="#000"/>
<text x="126.6" y="54.980000000000004" font-size="10.85" font-weight="bold" text-anchor="start" >6 mg/kg oxaliplatin + 1 g/kg LEM</text>
<path d="M98.5,63.05H103.5 M119.0,63.05H123.5" stroke="#000" stroke-width="1.6"/>
<rect x="108.00" y="60.35" width="5.3999999999999995" height="5.3999999999999995" fill="#000"/>
<text x="126.6" y="66.25" font-size="10.85" font-weight="bold" text-anchor="start" >6 mg/kg oxaliplatin + 2 g/kg LEM</text>
<path d="M445.5,6.65H470.5" stroke="#000" stroke-width="1.4"/>
<circle cx="457.70" cy="6.65" r="2.4" fill="#fff" stroke="#000" stroke-width="1"/>
<text x="472.9" y="9.850000000000001" font-size="10.85" font-weight="bold" text-anchor="start" >vehicle</text>
<path d="M445.5,18.05H450.5 M466.0,18.05H470.5" stroke="#000" stroke-width="1.6"/>
<circle cx="457.70" cy="18.05" r="2.8" fill="#000"/>
<text x="472.9" y="21.25" font-size="10.85" font-weight="bold" text-anchor="start" >6 mg/kg oxaliplatin</text>
<path d="M445.5,29.45H470.5" stroke="#000" stroke-width="1.4"/>
<path d="M457.70,26.85 L460.40,32.05 L455.00,32.05 Z" fill="#fff" stroke="#000" stroke-width="1" stroke-linejoin="miter"/>
<text x="472.9" y="32.650000000000006" font-size="10.85" font-weight="bold" text-anchor="start" >1 g/kg LEM</text>
<path d="M445.5,40.85H470.5" stroke="#000" stroke-width="1.4"/>
<rect x="455.30" y="38.45" width="4.8" height="4.8" fill="#fff" stroke="#000" stroke-width="1"/>
<text x="472.9" y="44.050000000000004" font-size="10.85" font-weight="bold" text-anchor="start" >2 g/kg LEM</text>
<path d="M445.5,52.25H450.5 M466.0,52.25H470.5" stroke="#000" stroke-width="1.6"/>
<path d="M457.70,49.45 L460.70,55.05 L454.70,55.05 Z" fill="#000"/>
<text x="472.9" y="55.45" font-size="10.85" font-weight="bold" text-anchor="start" >6 mg/kg oxaliplatin + 1 g/kg LEM</text>
<path d="M445.5,63.65H450.5 M466.0,63.65H470.5" stroke="#000" stroke-width="1.6"/>
<rect x="455.00" y="60.95" width="5.3999999999999995" height="5.3999999999999995" fill="#000"/>
<text x="472.9" y="66.85" font-size="10.85" font-weight="bold" text-anchor="start" >6 mg/kg oxaliplatin + 2 g/kg LEM</text>
<path d="M98.5,263.30H123.5" stroke="#000" stroke-width="1.4"/>
<circle cx="110.70" cy="263.30" r="2.4" fill="#fff" stroke="#000" stroke-width="1"/>
<text x="127.1" y="266.5" font-size="10.85" font-weight="bold" text-anchor="start" >vehicle</text>
<path d="M98.5,274.80H103.5 M119.0,274.80H123.5" stroke="#000" stroke-width="1.6"/>
<circle cx="110.70" cy="274.80" r="2.8" fill="#000"/>
<text x="127.1" y="278.0" font-size="10.85" font-weight="bold" text-anchor="start" >6 mg/kg oxaliplatin</text>
<path d="M98.5,286.30H123.5" stroke="#000" stroke-width="1.4"/>
<path d="M110.70,283.70 L113.40,288.90 L108.00,288.90 Z" fill="#fff" stroke="#000" stroke-width="1" stroke-linejoin="miter"/>
<text x="127.1" y="289.5" font-size="10.85" font-weight="bold" text-anchor="start" >1 g/kg LEM</text>
<path d="M98.5,297.80H123.5" stroke="#000" stroke-width="1.4"/>
<rect x="108.30" y="295.40" width="4.8" height="4.8" fill="#fff" stroke="#000" stroke-width="1"/>
<text x="127.1" y="301.0" font-size="10.85" font-weight="bold" text-anchor="start" >2 g/kg LEM</text>
<path d="M98.5,309.30H103.5 M119.0,309.30H123.5" stroke="#000" stroke-width="1.6"/>
<path d="M110.70,306.50 L113.70,312.10 L107.70,312.10 Z" fill="#000"/>
<text x="127.1" y="312.5" font-size="10.85" font-weight="bold" text-anchor="start" >6 mg/kg oxaliplatin + 1 g/kg LEM</text>
<path d="M98.5,320.80H103.5 M119.0,320.80H123.5" stroke="#000" stroke-width="1.6"/>
<rect x="108.00" y="318.10" width="5.3999999999999995" height="5.3999999999999995" fill="#000"/>
<text x="127.1" y="324.0" font-size="10.85" font-weight="bold" text-anchor="start" >6 mg/kg oxaliplatin + 2 g/kg LEM</text>
<path d="M440.5,262.90H465.5" stroke="#000" stroke-width="1.4"/>
<circle cx="452.70" cy="262.90" r="2.4" fill="#fff" stroke="#000" stroke-width="1"/>
<text x="468.6" y="266.09999999999997" font-size="10.85" font-weight="bold" text-anchor="start" >vehicle</text>
<path d="M440.5,274.28H445.5 M461.0,274.28H465.5" stroke="#000" stroke-width="1.6"/>
<circle cx="452.70" cy="274.28" r="2.8" fill="#000"/>
<text x="468.6" y="277.47999999999996" font-size="10.85" font-weight="bold" text-anchor="start" >6 mg/kg oxaliplatin</text>
<path d="M440.5,285.66H465.5" stroke="#000" stroke-width="1.4"/>
<path d="M452.70,283.06 L455.40,288.26 L450.00,288.26 Z" fill="#fff" stroke="#000" stroke-width="1" stroke-linejoin="miter"/>
<text x="468.6" y="288.85999999999996" font-size="10.85" font-weight="bold" text-anchor="start" >1 g/kg LEM</text>
<path d="M440.5,297.04H465.5" stroke="#000" stroke-width="1.4"/>
<rect x="450.30" y="294.64" width="4.8" height="4.8" fill="#fff" stroke="#000" stroke-width="1"/>
<text x="468.6" y="300.23999999999995" font-size="10.85" font-weight="bold" text-anchor="start" >2 g/kg LEM</text>
<path d="M440.5,308.42H445.5 M461.0,308.42H465.5" stroke="#000" stroke-width="1.6"/>
<path d="M452.70,305.62 L455.70,311.22 L449.70,311.22 Z" fill="#000"/>
<text x="468.6" y="311.61999999999995" font-size="10.85" font-weight="bold" text-anchor="start" >6 mg/kg oxaliplatin + 1 g/kg LEM</text>
<path d="M440.5,319.80H445.5 M461.0,319.80H465.5" stroke="#000" stroke-width="1.6"/>
<rect x="450.00" y="317.10" width="5.3999999999999995" height="5.3999999999999995" fill="#000"/>
<text x="468.6" y="322.99999999999994" font-size="10.85" font-weight="bold" text-anchor="start" >6 mg/kg oxaliplatin + 2 g/kg LEM</text>
<text transform="translate(10.5,134.3) rotate(-90)" font-size="11.6" font-weight="bold" text-anchor="middle">Withdrawal latency</text>
<text transform="translate(24.6,132.5) rotate(-90)" font-size="11.7" font-weight="bold" text-anchor="middle">(seconds)</text>
<text transform="translate(367.3,136.0) rotate(-90)" font-size="11.7" font-weight="bold" text-anchor="middle">Aversive response score</text>
<text transform="translate(19.5,395.2) rotate(-90)" font-size="11.7" font-weight="bold" text-anchor="middle">Aversive response score</text>
<text transform="translate(367.6,391.4) rotate(-90)" font-size="11.7" font-weight="bold" text-anchor="middle">Aversive response score</text>
</svg></body></html>
